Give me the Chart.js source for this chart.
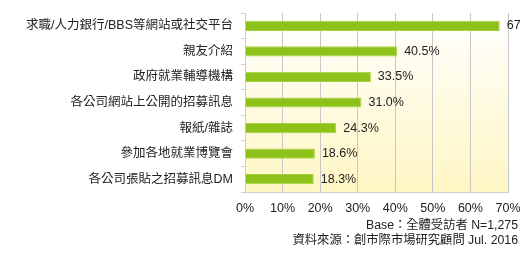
<!DOCTYPE html>
<html lang="zh-Hant">
<head>
    <meta charset="UTF-8">
    <title>求職管道</title>
    <script src="https://cdn.jsdelivr.net/npm/chart.js"></script>
    <style>
        html, body { margin: 0; padding: 0; background: #fff; }
        #wrap { position: relative; width: 520px; height: 261px; }
    </style>
</head>
<body>
    <div id="wrap"><canvas id="chart" width="520" height="261"></canvas></div>

    <script>
        // data
        const categories = ['求職/人力銀行/BBS等網站或社交平台', '親友介紹', '政府就業輔導機構', '各公司網站上公開的招募訊息', '報紙/雜誌', '參加各地就業博覽會', '各公司張貼之招募訊息DM'];
        const shares = [67.8, 40.5, 33.5, 31.0, 24.3, 18.6, 18.3];
        const xTicks = [0, 10, 20, 30, 40, 50, 60, 70];
        const footNotes = ['Base：全體受訪者 N=1,275', '資料來源：創市際市場研究顧問 Jul. 2016'];

        const fontFamily = '"Liberation Sans", "Noto Sans CJK TC", sans-serif';

        // light yellow gradient behind the plot
        const plotBg = {
            id: 'plotBg',
            beforeDraw(chart) {
                const { ctx, chartArea: a } = chart;
                const g = ctx.createLinearGradient(0, a.top, 0, a.bottom);
                g.addColorStop(0, '#ffffff');
                g.addColorStop(1, '#fff6c4');
                ctx.save();
                ctx.fillStyle = g;
                ctx.fillRect(a.left, a.top, a.right - a.left, a.bottom - a.top);
                ctx.restore();
            }
        };

        // value labels at bar ends + footnotes
        const valueLabels = {
            id: 'valueLabels',
            afterDatasetsDraw(chart) {
                const { ctx } = chart;
                const meta = chart.getDatasetMeta(0);
                ctx.save();
                ctx.font = '12.5px ' + fontFamily;
                ctx.fillStyle = '#222';
                ctx.textBaseline = 'middle';
                meta.data.forEach((bar, i) => {
                    ctx.fillText(shares[i].toFixed(1) + '%', bar.x + 7, bar.y);
                });
                ctx.textAlign = 'right';
                ctx.font = '12.3px ' + fontFamily;
                ctx.fillText(footNotes[0], 518, 226);
                ctx.fillText(footNotes[1], 518, 241);
                ctx.restore();
            }
        };

        new Chart(document.getElementById('chart'), {
            type: 'bar',
            data: {
                labels: categories,
                datasets: [{
                    data: shares,
                    backgroundColor: '#8cc21a',
                    borderColor: '#a6d23f',
                    borderWidth: 1,
                    barPercentage: 0.4,
                    categoryPercentage: 1
                }]
            },
            options: {
                indexAxis: 'y',
                responsive: false,
                animation: false,
                layout: { padding: { top: 13, right: 0, bottom: 43, left: 0 } },
                plugins: { legend: { display: false }, tooltip: { enabled: false } },
                scales: {
                    x: {
                        min: 0,
                        max: 70,
                        afterBuildTicks(axis) { axis.ticks = xTicks.map(v => ({ value: v })); },
                        grid: { color: '#c8c8c8', drawTicks: false },
                        border: { color: '#d0d0d0' },
                        ticks: {
                            padding: 9,
                            minRotation: 0,
                            maxRotation: 0,
                            autoSkip: false,
                            color: '#222',
                            font: { family: fontFamily, size: 12.5 },
                            callback: v => v + '%'
                        },
                        afterFit(axis) {
                            axis.height = 26;
                            axis.paddingLeft = 0;
                            axis.paddingRight = 12;
                        }
                    },
                    y: {
                        grid: { drawOnChartArea: false, tickLength: 4, color: '#cccccc', offset: true },
                        border: { color: '#d0d0d0' },
                        ticks: {
                            padding: 8,
                            color: '#222',
                            font: { family: fontFamily, size: 12.5 }
                        },
                        afterFit(axis) {
                            axis.width = 245;
                            axis.paddingTop = 0;
                            axis.paddingBottom = 0;
                        }
                    }
                }
            },
            plugins: [plotBg, valueLabels]
        });
    </script>
</body>
</html>
